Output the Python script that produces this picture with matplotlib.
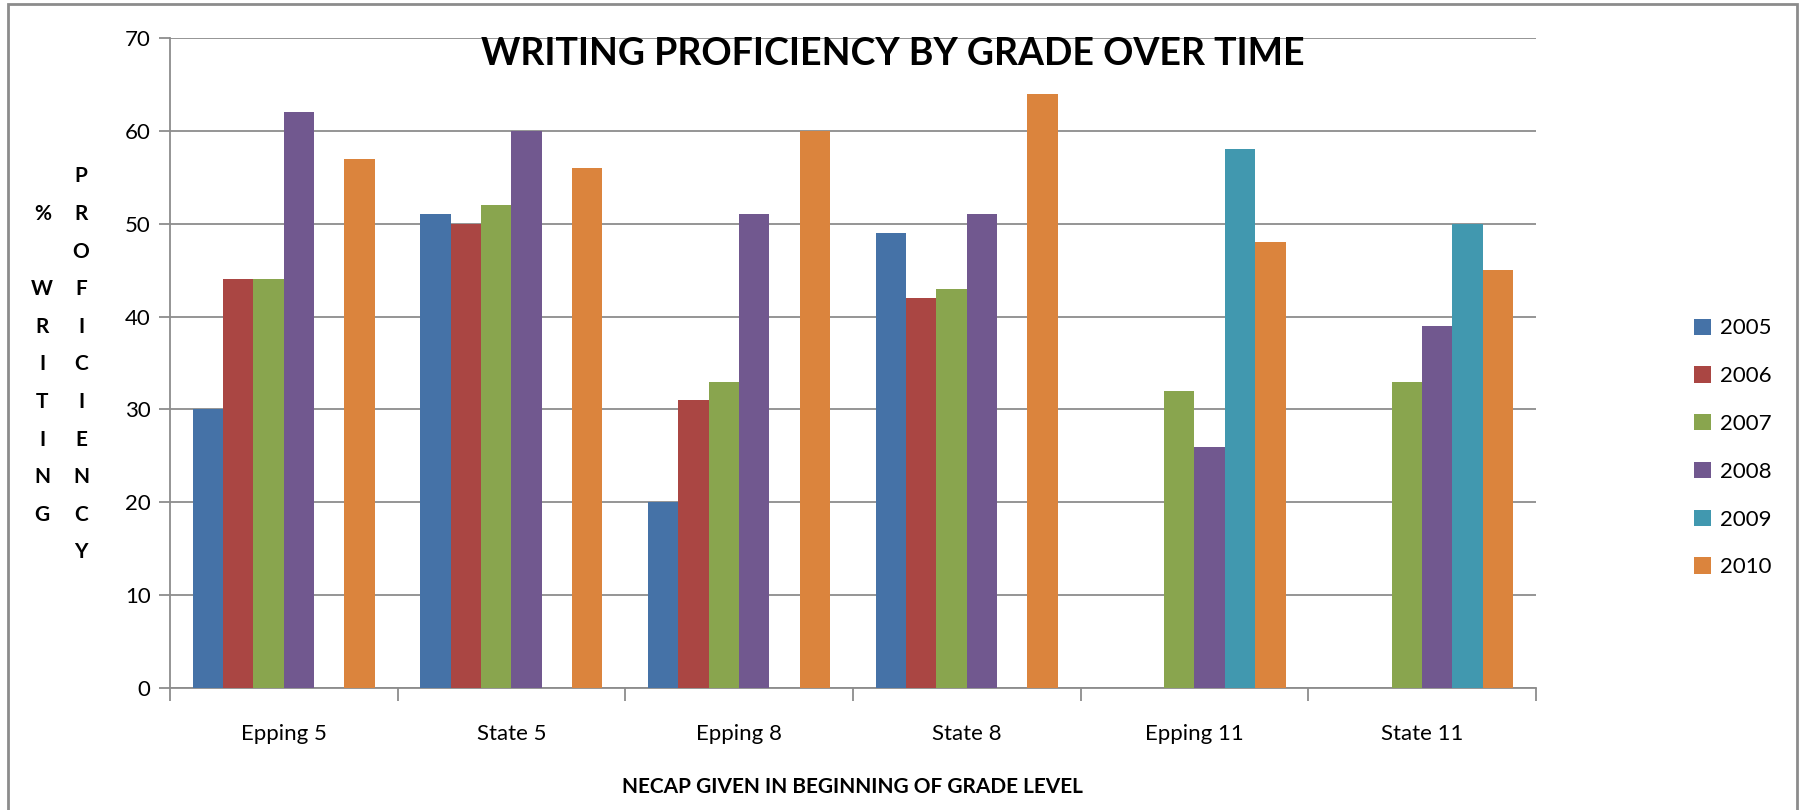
import numpy as np
import matplotlib.pyplot as plt
from matplotlib.patches import Rectangle

plt.rcParams['font.family'] = ['Lato', 'DejaVu Sans']

# grades / groups along the x axis
categories = ["Epping 5", "State 5", "Epping 8", "State 8", "Epping 11", "State 11"]
years = ["2005", "2006", "2007", "2008", "2009", "2010"]
colors = ["#4572A7", "#AA4643", "#89A54E", "#71588F", "#4198AF", "#DB843D"]

# % proficient per year (nan = not tested)
y2005 = [30, 51, 20, 49, np.nan, np.nan]
y2006 = [44, 50, 31, 42, np.nan, np.nan]
y2007 = [44, 52, 33, 43, 32, 33]
y2008 = [62, 60, 51, 51, 26, 39]
y2009 = [np.nan, np.nan, np.nan, np.nan, 58, 50]
y2010 = [57, 56, 60, 64, 48, 45]
series = [y2005, y2006, y2007, y2008, y2009, y2010]

fig = plt.figure(figsize=(18, 8.1), dpi=100)
ax = fig.add_axes([0.0944, 0.1506, 0.7589, 0.8024])

x = np.arange(len(categories))
w = 0.8 / len(years)
for i, (vals, yr, c) in enumerate(zip(series, years, colors)):
    ax.bar(x - 0.4 + w * (i + 0.5), vals, width=w, color=c, label=yr, zorder=3)

ax.set_xlim(-0.5, len(categories) - 0.5)
ax.set_ylim(0, 70)
ax.set_yticks(range(0, 71, 10))
ax.yaxis.grid(True, color="#8c8c8c", linewidth=1.3, zorder=0)
ax.set_xticks(x)
ax.set_xticklabels(categories, fontsize=16)
ax.set_xticks(np.arange(-0.5, len(categories)), minor=True)
ax.tick_params(axis="x", which="major", length=0, pad=26)
ax.tick_params(axis="x", which="minor", length=9, width=1.3, color="#8c8c8c", direction="out")
ax.tick_params(axis="y", length=8, width=1.3, color="#8c8c8c", labelsize=16, pad=6)
for s in ["top", "right"]:
    ax.spines[s].set_visible(False)
for s in ["left", "bottom"]:
    ax.spines[s].set_color("#8c8c8c")
    ax.spines[s].set_linewidth(1.3)

ax.set_xlabel("NECAP GIVEN IN BEGINNING OF GRADE LEVEL", fontsize=15,
              fontweight="bold", labelpad=24)

fig.text(0.496, 0.933, "WRITING PROFICIENCY BY GRADE OVER TIME", fontsize=27,
         fontweight="bold", ha="center", va="center")

# stacked vertical y label in two columns
fig.text(0.0235, 0.55, "\n".join("% WRITING"), fontsize=15,
         fontweight="bold", ha="center", va="center", linespacing=2.1)
fig.text(0.0450, 0.55, "\n".join("PROFICIENCY"), fontsize=15,
         fontweight="bold", ha="center", va="center", linespacing=2.1)

fig.legend(loc="center left", bbox_to_anchor=(0.93, 0.447), frameon=False,
           fontsize=16, handlelength=0.75, handleheight=0.75,
           labelspacing=1.25, handletextpad=0.4)

# outer chart frame
fig.patches.append(Rectangle((8 / 1800, -0.1), 1789 / 1800, 1.1 - 4 / 810,
                             transform=fig.transFigure, fill=False,
                             edgecolor="#8c8c8c", linewidth=2))

fig.savefig("out.png", dpi=100)
